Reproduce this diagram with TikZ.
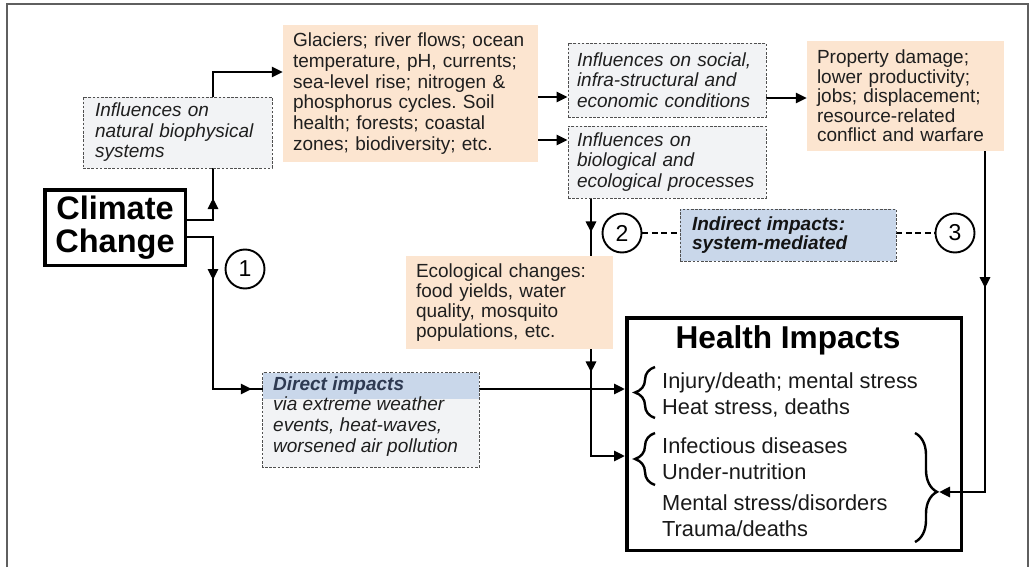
\documentclass[tikz,border=0pt]{standalone}
\usepackage{fontspec}
\setmainfont{Liberation Sans}
\usetikzlibrary{arrows, arrows.meta}
\usetikzlibrary{calc}
\usetikzlibrary{decorations.pathreplacing, decorations.markings}
\usetikzlibrary{backgrounds}

\definecolor{peach}{RGB}{252,229,208}
\definecolor{paleGray}{RGB}{242,243,245}
\definecolor{paleBlue}{RGB}{201,215,234}
\definecolor{slate}{RGB}{46,58,82}
\definecolor{frameGray}{RGB}{95,95,95}
\definecolor{dashGray}{RGB}{80,80,80}

\frenchspacing
\tikzset{
  txt/.style={font=\fontsize{19}{20.8}\selectfont, text=black!88, align=left},
  effect/.style={txt, fill=peach, inner xsep=10pt, inner ysep=0pt},
  dashbox/.style={draw=dashGray, line width=0.9pt, dash pattern=on 2.6pt off 1.6pt},
  influence/.style={txt, font=\fontsize{19}{20.5}\selectfont\itshape, fill=paleGray, dashbox, inner xsep=9pt, inner ysep=0pt},
  bigbox/.style={draw=black, line width=3.5pt, inner sep=0pt},
  numcirc/.style={circle, draw=black, line width=1.9pt, minimum size=39pt, inner sep=0pt, font=\fontsize{23}{23}\selectfont},
  hitem/.style={font=\fontsize{21.8}{26}\selectfont, text=black!90, align=left, inner sep=0pt},
  conn/.style={draw=black, line width=2.8pt},
  arr/.style={conn, ->},
  dconn/.style={draw=black, line width=2.4pt, dash pattern=on 6pt off 3.5pt},
  midarr/.style={postaction={decorate, decoration={markings, mark=at position #1 with {\arrow{>}}}}},
  hbrace/.style={draw=black, line width=2.4pt, decorate, decoration={brace, amplitude=#1}}
}

\begin{document}
\begin{tikzpicture}[x=1pt, y=-1pt, >={Triangle[length=11pt,width=10pt]}]
  \useasboundingbox (0,0) rectangle (1032,567);

  % drivers and pathways
  \node[bigbox, minimum width=140.5pt, minimum height=75.5pt, align=center,
        font=\fontsize{32.5}{33}\selectfont\bfseries] (cc) at (115,227.5) {Climate\\Change};
  \node[influence, text width=165pt, inner xsep=12pt, minimum height=71pt] (nat) at (177.5,132.5)
    {Influences on\\natural biophysical\\systems};
  \node[effect, text width=235pt, minimum height=137pt] (gl) at (410.5,93.5)
    {Glaciers; river flows; ocean\\temperature, pH, currents;\\sea-level rise; nitrogen \&\\phosphorus cycles. Soil\\health; forests; coastal\\zones; biodiversity; etc.};
  \node[influence, text width=180pt, minimum height=74pt] (soc) at (667,80)
    {Influences on social,\\infra-structural and\\economic conditions};
  \node[influence, text width=180pt, minimum height=72pt] (bio) at (667,162)
    {Influences on\\biological and\\ecological processes};
  \node[effect, font=\fontsize{19}{19.6}\selectfont, text width=177pt, minimum height=110pt] (prop) at (905.5,96)
    {Property damage;\\lower productivity;\\jobs; displacement;\\resource-related\\conflict and warfare};
  \node[effect, font=\fontsize{19}{20.2}\selectfont, text width=187pt, minimum height=93pt] (eco) at (509.5,302.5)
    {Ecological changes:\\food yields, water\\quality, mosquito\\populations, etc.};

  % pathway labels
  \node[numcirc] (c1) at (245,269) {1};
  \node[numcirc] (c2) at (622,233) {2};
  \node[numcirc] (c3) at (955,233) {3};
  \node[txt, font=\fontsize{19}{19}\selectfont\bfseries\itshape, text=black!92, fill=paleBlue,
        dashbox, text width=192pt, inner xsep=12pt, inner ysep=0pt, minimum height=52pt] (ind) at (788,235)
    {Indirect impacts:\\system-mediated};

  % direct impacts box with its header band
  \node[fill=paleGray, minimum width=216pt, minimum height=94pt, inner sep=0pt] (dir) at (371,420) {};
  \fill[paleBlue] (dir.north west) rectangle ($(dir.north east)+(0,26)$);
  \draw[dashbox] (dir.north west) rectangle (dir.south east);
  \node[txt, font=\fontsize{19}{20.8}\selectfont\bfseries\itshape, text=slate, inner sep=0pt, anchor=west] (dirhead) at (273,386)
    {Direct impacts};
  \node[txt, font=\fontsize{19}{21}\selectfont\itshape, inner sep=0pt, anchor=north west] (dirbody) at (273,397)
    {via extreme weather\\events, heat-waves,\\worsened air pollution};

  % health outcomes
  \node[bigbox, minimum width=334.5pt, minimum height=232.5pt] (hi) at (794,434) {};
  \node[font=\fontsize{31.6}{33}\selectfont\bfseries, inner sep=0pt] (hititle) at (788,340) {Health Impacts};
  \node[hitem, anchor=west] (inj) at (662,395) {Injury/death; mental stress\\Heat stress, deaths};
  \node[hitem, anchor=west] (inf) at (662,458.5) {Infectious diseases\\Under-nutrition};
  \node[hitem, anchor=west] (men) at (662,515.5) {Mental stress/disorders\\Trauma/deaths};
  \draw[hbrace=20pt] (655,418) -- (655,367);
  \draw[hbrace=20pt] (655,485) -- (655,433);
  \draw[hbrace=22pt, decoration={aspect=0.54}] (915,433) -- (915,542);

  \coordinate (k1) at (213,220);
  \coordinate (k2) at (213,72);
  \coordinate (k3) at (213,237);
  \coordinate (k4) at (213,389);
  \coordinate (k5) at (591,456);
  \coordinate (k6) at (985,492);
  \coordinate (rtip) at (939,492);

  \begin{pgfonlayer}{background}
    \draw[frameGray, line width=1.8pt] (7,567) -- (7,4) -- (1028,4) -- (1028,567);

    \draw[arr, midarr=48pt] (cc.east |- k1) -- (k1) -- (k2) -- (gl.west |- k2);
    \draw[conn, midarr=69pt, midarr=-11pt] (cc.east |- k3) -- (k3) -- (k4) -- (dir.west |- k4);
    \draw[arr] ($(gl.east)+(0,3.5)$) -- ($(soc.west)+(0,17)$);
    \draw[arr] ($(gl.east)+(0,46.5)$) -- ($(bio.west)+(0,-22)$);
    \draw[arr] ($(soc.east)+(0,18)$) -- ($(prop.west)+(0,2)$);
    \draw[arr, midarr=34pt, midarr=174pt] (bio.south -| k5) -- (k5) -- (hi.west |- k5);
    \draw[arr] ($(dir.east)+(0,-31)$) -- ($(hi.west)+(0,-45)$);
    \draw[arr, midarr=137pt] (prop.south -| k6) -- (k6) -- (rtip);

    \draw[dconn] (c2.east) -- (c2.east -| ind.west);
    \draw[dconn] (ind.east |- c3.west) -- (c3.west);
  \end{pgfonlayer}
\end{tikzpicture}
\end{document}
